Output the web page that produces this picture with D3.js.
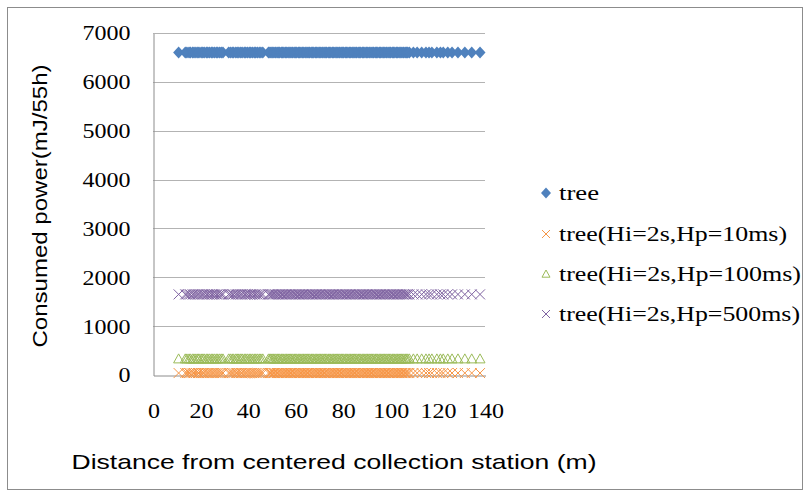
<!DOCTYPE html>
<html>
<head>
<meta charset="utf-8">
<script src="https://cdn.jsdelivr.net/npm/d3@7"></script>
<style>
  html, body { margin: 0; padding: 0; background: #fff; }
  svg { display: block; }
</style>
</head>
<body>
<svg id="chart" width="810" height="497"></svg>
<script>
// ---- data ----
const distances = [
  10.8, 13.6, 14.3, 15.2, 15.8, 16.7, 17.3, 18.1, 18.9, 19.4,
  20.3, 21.0, 21.6, 22.5, 23.1, 23.8, 24.6, 25.2, 25.9, 26.7,
  27.3, 28.1, 28.8, 29.5, 31.9, 32.6, 33.4, 34.0, 34.9, 35.5,
  36.2, 37.0, 37.6, 38.5, 39.1, 39.8, 40.6, 41.2, 41.9, 42.7,
  43.3, 44.0, 44.8, 45.5, 46.3, 48.7, 49.3, 49.8, 50.5, 51.0,
  51.6, 52.3, 52.8, 53.4, 54.1, 54.6, 55.2, 55.9, 56.4, 57.0,
  57.7, 58.2, 58.8, 59.5, 60.0, 60.6, 61.3, 61.8, 62.4, 63.1,
  63.6, 64.2, 64.9, 65.4, 66.0, 66.7, 67.2, 67.8, 68.5, 69.0,
  69.6, 70.3, 70.8, 71.4, 72.1, 72.6, 73.2, 73.9, 74.4, 75.0,
  75.7, 76.2, 76.8, 77.5, 78.0, 78.6, 79.3, 79.8, 80.4, 81.1,
  81.6, 82.2, 82.9, 83.4, 84.0, 84.7, 85.2, 85.8, 86.5, 87.0,
  87.6, 88.3, 88.8, 89.4, 90.1, 90.6, 91.2, 91.9, 92.4, 93.0,
  93.7, 94.2, 94.8, 95.5, 96.0, 96.6, 97.3, 97.8, 98.4, 99.1,
  99.6, 100.2, 100.9, 101.4, 102.0, 102.7, 103.2, 103.8, 104.5, 105.0,
  105.6, 106.3, 106.8, 107.4, 108.1, 109.8, 111.4, 113.3, 115.1, 116.4,
  117.6, 119.7, 121.2, 122.4, 124.3, 126.1, 128.6, 131.5, 134.4, 137.9
];
const treeValues = [
  6600, 6600, 6600, 6600, 6600, 6600, 6600, 6600, 6600, 6600,
  6600, 6600, 6600, 6600, 6600, 6600, 6600, 6600, 6600, 6600,
  6600, 6600, 6600, 6600, 6600, 6600, 6600, 6600, 6600, 6600,
  6600, 6600, 6600, 6600, 6600, 6600, 6600, 6600, 6600, 6600,
  6600, 6600, 6600, 6600, 6600, 6600, 6600, 6600, 6600, 6600,
  6600, 6600, 6600, 6600, 6600, 6600, 6600, 6600, 6600, 6600,
  6600, 6600, 6600, 6600, 6600, 6600, 6600, 6600, 6600, 6600,
  6600, 6600, 6600, 6600, 6600, 6600, 6600, 6600, 6600, 6600,
  6600, 6600, 6600, 6600, 6600, 6600, 6600, 6600, 6600, 6600,
  6600, 6600, 6600, 6600, 6600, 6600, 6600, 6600, 6600, 6600,
  6600, 6600, 6600, 6600, 6600, 6600, 6600, 6600, 6600, 6600,
  6600, 6600, 6600, 6600, 6600, 6600, 6600, 6600, 6600, 6600,
  6600, 6600, 6600, 6600, 6600, 6600, 6600, 6600, 6600, 6600,
  6600, 6600, 6600, 6600, 6600, 6600, 6600, 6600, 6600, 6600,
  6600, 6600, 6600, 6600, 6600, 6600, 6600, 6600, 6600, 6600,
  6600, 6600, 6600, 6600, 6600, 6600, 6600, 6600, 6600, 6600
];
const hp10Values = [
  40, 40, 40, 40, 40, 40, 40, 40, 40, 40,
  40, 40, 40, 40, 40, 40, 40, 40, 40, 40,
  40, 40, 40, 40, 40, 40, 40, 40, 40, 40,
  40, 40, 40, 40, 40, 40, 40, 40, 40, 40,
  40, 40, 40, 40, 40, 40, 40, 40, 40, 40,
  40, 40, 40, 40, 40, 40, 40, 40, 40, 40,
  40, 40, 40, 40, 40, 40, 40, 40, 40, 40,
  40, 40, 40, 40, 40, 40, 40, 40, 40, 40,
  40, 40, 40, 40, 40, 40, 40, 40, 40, 40,
  40, 40, 40, 40, 40, 40, 40, 40, 40, 40,
  40, 40, 40, 40, 40, 40, 40, 40, 40, 40,
  40, 40, 40, 40, 40, 40, 40, 40, 40, 40,
  40, 40, 40, 40, 40, 40, 40, 40, 40, 40,
  40, 40, 40, 40, 40, 40, 40, 40, 40, 40,
  40, 40, 40, 40, 40, 40, 40, 40, 40, 40,
  40, 40, 40, 40, 40, 40, 40, 40, 40, 40
];
const hp100Values = [
  330, 330, 330, 330, 330, 330, 330, 330, 330, 330,
  330, 330, 330, 330, 330, 330, 330, 330, 330, 330,
  330, 330, 330, 330, 330, 330, 330, 330, 330, 330,
  330, 330, 330, 330, 330, 330, 330, 330, 330, 330,
  330, 330, 330, 330, 330, 330, 330, 330, 330, 330,
  330, 330, 330, 330, 330, 330, 330, 330, 330, 330,
  330, 330, 330, 330, 330, 330, 330, 330, 330, 330,
  330, 330, 330, 330, 330, 330, 330, 330, 330, 330,
  330, 330, 330, 330, 330, 330, 330, 330, 330, 330,
  330, 330, 330, 330, 330, 330, 330, 330, 330, 330,
  330, 330, 330, 330, 330, 330, 330, 330, 330, 330,
  330, 330, 330, 330, 330, 330, 330, 330, 330, 330,
  330, 330, 330, 330, 330, 330, 330, 330, 330, 330,
  330, 330, 330, 330, 330, 330, 330, 330, 330, 330,
  330, 330, 330, 330, 330, 330, 330, 330, 330, 330,
  330, 330, 330, 330, 330, 330, 330, 330, 330, 330
];
const hp500Values = [
  1650, 1650, 1650, 1650, 1650, 1650, 1650, 1650, 1650, 1650,
  1650, 1650, 1650, 1650, 1650, 1650, 1650, 1650, 1650, 1650,
  1650, 1650, 1650, 1650, 1650, 1650, 1650, 1650, 1650, 1650,
  1650, 1650, 1650, 1650, 1650, 1650, 1650, 1650, 1650, 1650,
  1650, 1650, 1650, 1650, 1650, 1650, 1650, 1650, 1650, 1650,
  1650, 1650, 1650, 1650, 1650, 1650, 1650, 1650, 1650, 1650,
  1650, 1650, 1650, 1650, 1650, 1650, 1650, 1650, 1650, 1650,
  1650, 1650, 1650, 1650, 1650, 1650, 1650, 1650, 1650, 1650,
  1650, 1650, 1650, 1650, 1650, 1650, 1650, 1650, 1650, 1650,
  1650, 1650, 1650, 1650, 1650, 1650, 1650, 1650, 1650, 1650,
  1650, 1650, 1650, 1650, 1650, 1650, 1650, 1650, 1650, 1650,
  1650, 1650, 1650, 1650, 1650, 1650, 1650, 1650, 1650, 1650,
  1650, 1650, 1650, 1650, 1650, 1650, 1650, 1650, 1650, 1650,
  1650, 1650, 1650, 1650, 1650, 1650, 1650, 1650, 1650, 1650,
  1650, 1650, 1650, 1650, 1650, 1650, 1650, 1650, 1650, 1650,
  1650, 1650, 1650, 1650, 1650, 1650, 1650, 1650, 1650, 1650
];
const seriesNames = ["tree", "tree(Hi=2s,Hp=10ms)", "tree(Hi=2s,Hp=100ms)", "tree(Hi=2s,Hp=500ms)"];
const xTicks = [0, 20, 40, 60, 80, 100, 120, 140];
const yTicks = [0, 1000, 2000, 3000, 4000, 5000, 6000, 7000];
const xTitle = "Distance from centered collection station (m)";
const yTitle = "Consumed power(mJ/55h)";

// ---- layout ----
const svg = d3.select("#chart");
const plot = { left: 153, right: 485, top: 33, bottom: 375 };
const x = d3.scaleLinear().domain([0, 140]).range([plot.left, plot.right]);
const y = d3.scaleLinear().domain([0, 7000]).range([plot.bottom, plot.top]);

const serifFont = "Liberation Serif";
const sansFont = "Liberation Sans";
const digitW = 12;

const styles = [
  { shape: "diamond", color: "#4F81BD" },
  { shape: "x", color: "#F79646" },
  { shape: "triangle", color: "#9BBB59" },
  { shape: "x", color: "#8064A2" }
];
const seriesValues = [treeValues, hp10Values, hp100Values, hp500Values];

// chart border
svg.append("rect")
  .attr("x", 7.5).attr("y", 7.5).attr("width", 795).attr("height", 482)
  .attr("fill", "#fff").attr("stroke", "#8c8c8c").attr("stroke-width", 1);

// gridlines
svg.append("g").selectAll("line").data(yTicks.filter(d => d > 0)).join("line")
  .attr("x1", plot.left).attr("x2", plot.right)
  .attr("y1", d => Math.round(y(d)) + 0.5).attr("y2", d => Math.round(y(d)) + 0.5)
  .attr("stroke", "#b3b3b3").attr("stroke-width", 1);

// y axis
const yAxis = d3.axisLeft(y).tickValues(yTicks).tickSize(0).tickPadding(23).tickFormat(d3.format("d"));
const gy = svg.append("g").attr("transform", `translate(${plot.left + 0.5},0.5)`).call(yAxis);
gy.attr("font-family", null);
gy.select(".domain").attr("stroke", "#8c8c8c");
gy.selectAll("text").attr("fill", "#000").style("font-family", serifFont).style("font-size", "20px")
  .attr("textLength", d => String(d).length * digitW).attr("lengthAdjust", "spacingAndGlyphs");

// x axis
const xAxis = d3.axisBottom(x).tickValues(xTicks).tickSize(0).tickPadding(28).tickFormat(d3.format("d"));
const gx = svg.append("g").attr("transform", `translate(0.5,${plot.bottom + 0.5})`).call(xAxis);
gx.attr("font-family", null);
gx.select(".domain").attr("stroke", "#8c8c8c");
gx.selectAll("text").attr("fill", "#000").style("font-family", serifFont).style("font-size", "20px")
  .attr("textLength", d => String(d).length * digitW).attr("lengthAdjust", "spacingAndGlyphs");

// markers
function drawMarker(g, shape, color, s) {
  if (shape === "diamond") {
    g.append("path").attr("d", `M0,${-s * 1.1}L${s},0L0,${s * 1.1}L${-s},0Z`).attr("fill", color);
  } else if (shape === "x") {
    g.append("path").attr("d", `M${-s},${-s}L${s},${s}M${-s},${s}L${s},${-s}`)
      .attr("stroke", color).attr("stroke-width", 1).attr("fill", "none");
  } else {
    g.append("path").attr("d", `M0,${-s}L${s},${s * 0.8}L${-s},${s * 0.8}Z`)
      .attr("stroke", color).attr("stroke-width", 1).attr("fill", "none");
  }
}

seriesValues.forEach((vals, si) => {
  const st = styles[si];
  const g = svg.append("g");
  const pts = g.selectAll("g").data(distances.map((d, i) => ({ d, v: vals[i] }))).join("g")
    .attr("transform", p => `translate(${x(p.d)},${y(p.v)})`);
  pts.each(function () {
    drawMarker(d3.select(this), st.shape, st.color, st.shape === "diamond" ? 5.5 : 5);
  });
});

// legend
const legendRows = [193, 234, 274, 314];
const legendLens = [40, 228, 242, 241];
const lg = svg.append("g");
seriesNames.forEach((name, i) => {
  const st = styles[i];
  const m = lg.append("g").attr("transform", `translate(546,${legendRows[i]})`);
  drawMarker(m, st.shape, st.color, st.shape === "diamond" ? 5 : 4);
  lg.append("text").attr("x", 559).attr("y", legendRows[i]).attr("dy", "0.33em")
    .style("font-family", serifFont).style("font-size", "20px").attr("fill", "#000")
    .attr("textLength", legendLens[i]).attr("lengthAdjust", "spacingAndGlyphs")
    .text(name);
});

// axis titles
svg.append("text").attr("x", 334).attr("y", 469).attr("text-anchor", "middle")
  .style("font-family", sansFont).style("font-size", "21px").attr("fill", "#000")
  .attr("textLength", 525).attr("lengthAdjust", "spacingAndGlyphs")
  .text(xTitle);
svg.append("text").attr("transform", "translate(47,206) rotate(-90)").attr("text-anchor", "middle")
  .style("font-family", sansFont).style("font-size", "21px").attr("fill", "#000")
  .attr("textLength", 283).attr("lengthAdjust", "spacingAndGlyphs")
  .text(yTitle);
</script>
</body>
</html>
